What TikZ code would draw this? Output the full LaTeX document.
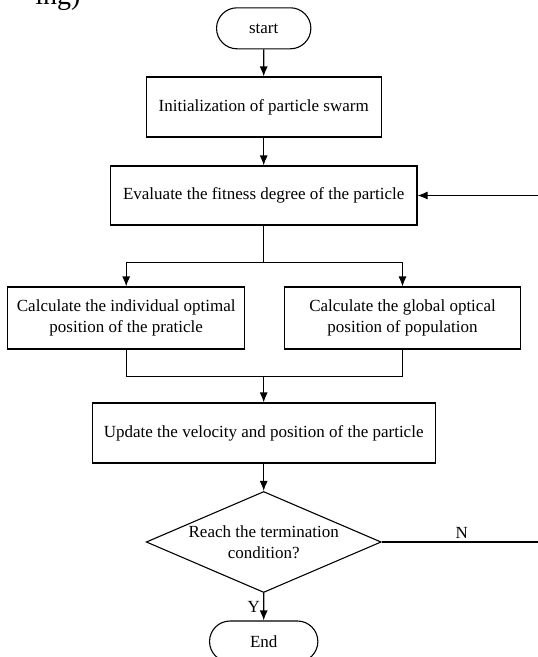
\documentclass[tikz,border=0pt]{standalone}
\usepackage{fontspec}
\setmainfont{Liberation Serif}
\usepackage{tikz}
\usetikzlibrary{shapes,arrows,arrows.meta,calc}
\tikzstyle{line} = [draw, -{Latex[length=10pt,width=8pt]}]
\tikzstyle{block} = [draw, rectangle, text centered, align=center, minimum height=60pt]
\tikzstyle{decision} = [draw, diamond, aspect=2.33, text centered, align=center, inner sep=0pt, minimum width=235pt, minimum height=101pt]
\tikzstyle{cloud} = [draw, rounded rectangle, text centered, minimum height=41pt]

\begin{document}
\begin{tikzpicture}[x=1pt, y=-1pt, auto, line width=1.1pt, font=\fontsize{17}{20.5}\selectfont]
        \useasboundingbox (0,0) rectangle (538,657);
        \clip (0,0) rectangle (538,657);
        \node[anchor=base east, inner sep=0pt, font=\fontsize{28}{32}\selectfont] (prev) at (81,4) {ing)};
        \node[cloud, minimum width=101pt] (start) at (263.7,28.3) {start};
        \node[block, below of=start, node distance=78.7pt, minimum width=235pt] (init) {Initialization of particle swarm};
        \node[block, below of=init, node distance=88.5pt, minimum width=306.6pt, minimum height=59pt] (eval) {Evaluate the fitness degree of the particle};
        \node[block, below of=eval, node distance=122.5pt, xshift=-137.5pt, minimum width=237pt, minimum height=62pt] (indiv) {Calculate the individual optimal\\position of the praticle};
        \node[block, below of=eval, node distance=122.5pt, xshift=138.8pt, minimum width=236pt, minimum height=62pt] (glob) {Calculate the global optical\\position of population};
        \node[block, below of=eval, node distance=237.5pt, minimum width=343pt] (update) {Update the velocity and position of the particle};
        \node[decision, below of=update, node distance=109pt] (check) {Reach the termination\\condition?};
        \node[cloud, below of=check, node distance=99.5pt, minimum width=115pt] (finish) {End};
        \coordinate (split) at ($(eval.south)+(0,37)$);
        \coordinate (join) at ($(update.north)+(0,-26)$);
        \coordinate (back) at ($(check.east)+(160,0)$);
        \path[line] (start) -- (init);
        \path[line] (init) -- (eval);
        \draw (eval) -- (split);
        \path[line] (split) -| (indiv);
        \path[line] (split) -| (glob);
        \draw (indiv) |- (join);
        \draw (glob) |- (join);
        \path[line] (join) -- (update);
        \path[line] (update) -- (check);
        \path[line] (check) -- node[left] (ylab) {Y} (finish);
        \path[line] (check) -- node[above] (nlab) {N} (back) |- (eval);
    \end{tikzpicture}
\end{document}
